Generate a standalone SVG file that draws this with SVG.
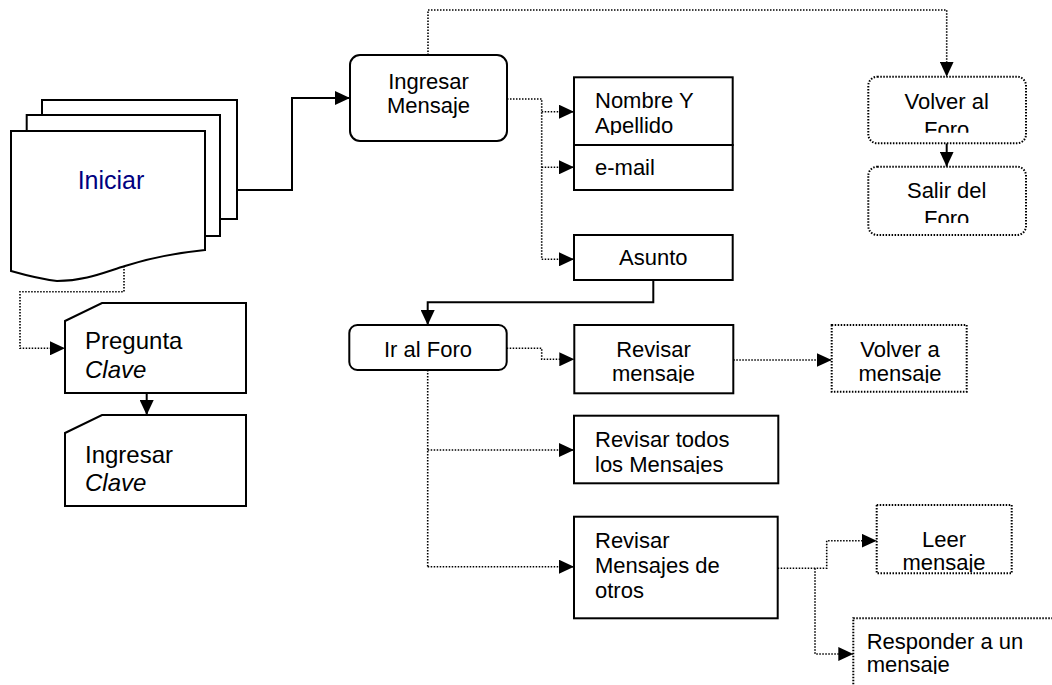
<svg xmlns="http://www.w3.org/2000/svg" width="1052" height="685" viewBox="0 0 1052 685">
<style>
.box{fill:#fff;stroke:#000;stroke-width:2}
.dbox{fill:#fff;stroke:#000;stroke-width:2;stroke-dasharray:1.5 1.5}
.t{font-family:"Liberation Sans",Arial,sans-serif;font-size:22px;fill:#000}
.tc{text-anchor:middle}
.big{font-size:24px}
.it{font-style:italic}
.solid{fill:none;stroke:#000;stroke-width:2}
.dot{fill:none;stroke:#000;stroke-width:1.6;stroke-dasharray:1.5 1.5}
</style>
<defs>
<marker id="ah" markerUnits="userSpaceOnUse" markerWidth="16" markerHeight="14" refX="15" refY="7" orient="auto">
<path d="M0,0 L15,7 L0,14 Z" fill="#000"/>
</marker>
<clipPath id="cNombre"><rect x="574" y="77" width="159" height="58"/></clipPath>
<clipPath id="cVolverForo"><rect x="868" y="77" width="158" height="55.7"/></clipPath>
<clipPath id="cSalir"><rect x="868" y="167" width="158" height="56"/></clipPath>
<clipPath id="cRevMsg"><rect x="574" y="325" width="159" height="58"/></clipPath>
<clipPath id="cVolverMsg"><rect x="832" y="325" width="135" height="58"/></clipPath>
<clipPath id="cTodos"><rect x="574" y="416" width="204" height="58"/></clipPath>
<clipPath id="cLeer"><rect x="877" y="505" width="135" height="67"/></clipPath>
<clipPath id="cResp"><rect x="853" y="618" width="200" height="56"/></clipPath>
</defs>

<g id="connectors">
<polyline class="solid" points="237,190 292,190 292,98 350,98" marker-end="url(#ah)"/>
<polyline class="dot" points="124,266 124,291.7 20,291.7 20,348.3 65,348.3" marker-end="url(#ah)"/>
<polyline class="solid" points="146.7,393 146.7,415" marker-end="url(#ah)"/>
<polyline class="dot" points="428,55 428,10 946.7,10 946.7,76.7" marker-end="url(#ah)"/>
<polyline class="solid" points="946.7,143.3 946.7,166.7" marker-end="url(#ah)"/>
<polyline class="dot" points="507,99 541.7,99 541.7,259.3"/>
<polyline class="dot" points="541.7,111.7 574,111.7" marker-end="url(#ah)"/>
<polyline class="dot" points="541.7,167.3 574,167.3" marker-end="url(#ah)"/>
<polyline class="dot" points="541.7,259.3 574,259.3" marker-end="url(#ah)"/>
<polyline class="solid" points="653.3,280 653.3,302.3 427.7,302.3 427.7,325" marker-end="url(#ah)"/>
<polyline class="dot" points="506.7,348.3 541.7,348.3 541.7,359.3 574.3,359.3" marker-end="url(#ah)"/>
<polyline class="dot" points="733.3,360 831.7,360" marker-end="url(#ah)"/>
<polyline class="dot" points="427.7,370 427.7,566.7"/>
<polyline class="dot" points="427.7,450 574,450" marker-end="url(#ah)"/>
<polyline class="dot" points="427.7,566.7 574,566.7" marker-end="url(#ah)"/>
<polyline class="dot" points="777.7,568.3 826.7,568.3 826.7,540.7 876.7,540.7" marker-end="url(#ah)"/>
<polyline class="dot" points="815,568.3 815,654 853.3,654" marker-end="url(#ah)"/>
</g>

<g id="iniciar">
<rect class="box" x="42" y="100" width="195" height="119"/>
<rect class="box" x="26.7" y="115" width="193.3" height="121"/>
<path class="box" d="M11,131 H205 V250 C175,253 150,258 125,266 C105,272 85,281 57,281 C40,279 25,275 11,271 Z"/>
<text class="t tc" x="111" y="189" style="font-size:25px;fill:#000080">Iniciar</text>
</g>

<g id="pregunta">
<path class="box" d="M65,321 L102,303 H246 V393 H65 Z"/>
<text class="t big" x="85" y="349.3">Pregunta</text>
<text class="t big it" x="85" y="378.3">Clave</text>
</g>

<g id="ingresarClave">
<path class="box" d="M65,433 L102,415 H246 V506 H65 Z"/>
<text class="t big" x="85" y="462.7">Ingresar</text>
<text class="t big it" x="85" y="490.7">Clave</text>
</g>

<g id="ingresarMensaje">
<rect class="box" x="350" y="55" width="157" height="86" rx="10"/>
<text class="t tc" x="428.5" y="89">Ingresar</text>
<text class="t tc" x="428.5" y="113">Mensaje</text>
</g>

<g id="nombre">
<rect class="box" x="574" y="77.3" width="158.7" height="67.7"/>
<g clip-path="url(#cNombre)">
<text class="t" x="595" y="108.3">Nombre Y</text>
<text class="t" x="595" y="133">Apellido</text>
</g>
</g>

<g id="email">
<rect class="box" x="574" y="145" width="158.7" height="45"/>
<text class="t" x="595" y="175">e-mail</text>
</g>

<g id="asunto">
<rect class="box" x="574" y="235" width="158.7" height="45"/>
<text class="t tc" x="653.3" y="265">Asunto</text>
</g>

<g id="volverForo">
<rect class="dbox" x="868.3" y="76.7" width="157.7" height="66.6" rx="9"/>
<g clip-path="url(#cVolverForo)">
<text class="t tc" x="946.7" y="109.3">Volver al</text>
<text class="t tc" x="946.7" y="137">Foro</text>
</g>
</g>

<g id="salirForo">
<rect class="dbox" x="868.3" y="166.7" width="157.7" height="68.3" rx="9"/>
<g clip-path="url(#cSalir)">
<text class="t tc" x="946.7" y="198.3">Salir del</text>
<text class="t tc" x="946.7" y="226">Foro</text>
</g>
</g>

<g id="irForo">
<rect class="box" x="349.3" y="325" width="157.4" height="45" rx="8"/>
<text class="t tc" x="428" y="357.3">Ir al Foro</text>
</g>

<g id="revisarMensaje">
<rect class="box" x="574.3" y="325" width="159" height="68.3"/>
<g clip-path="url(#cRevMsg)">
<text class="t tc" x="653.5" y="357.3">Revisar</text>
<text class="t tc" x="653.5" y="381">mensaje</text>
</g>
</g>

<g id="volverMensaje">
<rect class="dbox" x="831.7" y="325" width="135" height="66.7"/>
<g clip-path="url(#cVolverMsg)">
<text class="t tc" x="900" y="356.7">Volver a</text>
<text class="t tc" x="900" y="381">mensaje</text>
</g>
</g>

<g id="revisarTodos">
<rect class="box" x="574" y="415.7" width="204.3" height="67.6"/>
<g clip-path="url(#cTodos)">
<text class="t" x="595" y="446.7">Revisar todos</text>
<text class="t" x="595" y="471.7">los Mensajes</text>
</g>
</g>

<g id="revisarOtros">
<rect class="box" x="574" y="516.7" width="203.7" height="101.6"/>
<text class="t" x="595" y="547.7">Revisar</text>
<text class="t" x="595" y="573">Mensajes de</text>
<text class="t" x="595" y="598">otros</text>
</g>

<g id="leerMensaje">
<rect class="dbox" x="876.7" y="505" width="135" height="68.3"/>
<g clip-path="url(#cLeer)">
<text class="t tc" x="944" y="546.7">Leer</text>
<text class="t tc" x="944" y="570">mensaje</text>
</g>
</g>

<g id="responder">
<rect class="dbox" x="853.3" y="618.3" width="230" height="100"/>
<g clip-path="url(#cResp)">
<text class="t" x="866.7" y="649.3">Responder a un</text>
<text class="t" x="866.7" y="672">mensaje</text>
</g>
</g>
</svg>
